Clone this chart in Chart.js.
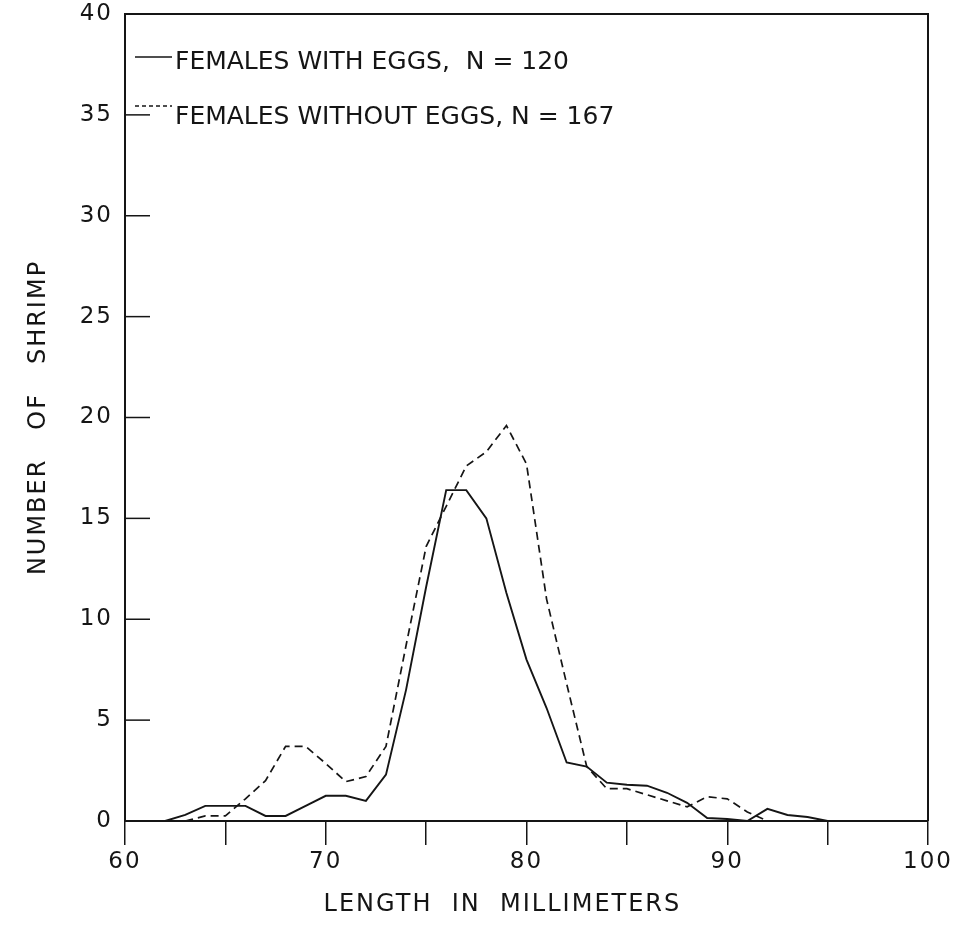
<!DOCTYPE html>
<html>
<head>
<meta charset="utf-8">
<script src="https://cdn.jsdelivr.net/npm/chart.js@4.4.1/dist/chart.umd.min.js"></script>
<style>
  html, body { margin: 0; padding: 0; background: #fff; }
  #wrap { width: 967px; height: 929px; }
</style>
</head>
<body>
<div id="wrap"><canvas id="shrimpChart" width="967" height="929"></canvas></div>
<script>
// Length-frequency of female shrimp

const withEggsLength = [62, 63, 64, 65, 66, 67, 68, 69, 70, 71, 72, 73, 74, 75, 76, 77, 78,
  79, 80, 81, 82, 83, 84, 85, 86, 87, 88, 89, 90, 91, 92, 93, 94, 95];
const withEggsCount = [0, 0.3, 0.75, 0.75, 0.75, 0.25, 0.25, 0.75, 1.25, 1.25, 1.0, 2.3, 6.5, 11.6, 16.4, 16.4, 15.0,
  11.3, 8.0, 5.6, 2.9, 2.7, 1.9, 1.8, 1.75, 1.4, 0.9, 0.15, 0.1, 0, 0.6, 0.3, 0.2, 0];

const withoutEggsLength = [63, 64, 65, 66, 67, 68, 69, 70, 71, 72, 73, 74, 75, 76, 77, 78,
  79, 80, 81, 82, 83, 84, 85, 86, 87, 88, 89, 90, 91, 92];
const withoutEggsCount = [0, 0.25, 0.25, 1.1, 2.0, 3.7, 3.7, 2.85, 1.95, 2.2, 3.7, 8.7, 13.6, 15.6, 17.6, 18.3,
  19.6, 17.7, 11.0, 6.8, 2.7, 1.6, 1.6, 1.3, 1.0, 0.7, 1.2, 1.1, 0.45, 0];

const seriesLabels = ['FEMALES WITH EGGS,  N = 120', 'FEMALES WITHOUT EGGS, N = 167'];
const xTitle = 'LENGTH  IN  MILLIMETERS     ';
const yTitle = 'NUMBER   OF   SHRIMP';

const ink = '#151515';
const labelFont = "'DejaVu Sans', sans-serif";

const toPoints = (xs, ys) => xs.map((x, i) => ({ x, y: ys[i] }));

// Lettering on the original is widely spaced; only the axis text gets it
const spacingPlugin = {
  id: 'spacing',
  beforeDraw(chart) { chart.ctx.letterSpacing = '2px'; },
  beforeDatasetsDraw(chart) { chart.ctx.letterSpacing = '0px'; }
};

// Draws the top/right frame, the inward y tick marks and the in-plot legend
const framePlugin = {
  id: 'frame',
  afterDatasetsDraw(chart) {
    const { ctx, chartArea: { left, right, top, bottom }, scales: { y } } = chart;
    ctx.save();
    ctx.strokeStyle = ink;
    ctx.lineWidth = 2;
    ctx.beginPath();
    ctx.moveTo(left, top);
    ctx.lineTo(right, top);
    ctx.lineTo(right, bottom);
    ctx.stroke();

    ctx.lineWidth = 1.5;
    y.ticks.forEach(({ value }) => {
      if (value <= 0 || value >= 40) return;
      const py = y.getPixelForValue(value);
      ctx.beginPath();
      ctx.moveTo(left, py);
      ctx.lineTo(left + 25, py);
      ctx.stroke();
    });

    // legend
    const rows = [{ lineY: top + 43, textY: top + 48 }, { lineY: top + 92, textY: top + 103 }];
    ctx.font = `25px ${labelFont}`;
    ctx.fillStyle = ink;
    ctx.textBaseline = 'middle';
    chart.data.datasets.forEach((ds, i) => {
      const r = rows[i];
      ctx.lineWidth = 1.6;
      ctx.setLineDash(ds.borderDash.length ? [4, 3] : []);
      ctx.beginPath();
      ctx.moveTo(left + 10, r.lineY);
      ctx.lineTo(left + 47, r.lineY);
      ctx.stroke();
      ctx.setLineDash([]);
      ctx.fillText(ds.label, left + 50, r.textY);
    });
    ctx.restore();
  }
};

const ctx = document.getElementById('shrimpChart').getContext('2d');

new Chart(ctx, {
  type: 'line',
  data: {
    datasets: [
      {
        label: seriesLabels[0],
        data: toPoints(withEggsLength, withEggsCount),
        borderColor: ink,
        borderWidth: 1.9,
        borderDash: [],
        pointRadius: 0,
        tension: 0,
        fill: false
      },
      {
        label: seriesLabels[1],
        data: toPoints(withoutEggsLength, withoutEggsCount),
        borderColor: ink,
        borderWidth: 1.7,
        borderDash: [8, 5],
        pointRadius: 0,
        tension: 0,
        fill: false
      }
    ]
  },
  options: {
    responsive: false,
    animation: false,
    layout: { padding: { left: 0, right: 39, top: 14, bottom: 0 } },
    plugins: {
      legend: { display: false },
      tooltip: { enabled: false }
    },
    scales: {
      x: {
        type: 'linear',
        min: 60,
        max: 100,
        afterFit: (s) => { s.height = 108; },
        border: { display: true, color: ink, width: 2 },
        grid: { drawOnChartArea: false, drawTicks: true, tickLength: 24, color: ink, lineWidth: 1.5 },
        ticks: {
          stepSize: 5,
          autoSkip: false,
          maxRotation: 0,
          padding: 3,
          color: ink,
          font: { family: labelFont, size: 23 },
          callback: (v) => (v % 10 === 0 ? String(v) : '')
        },
        title: {
          display: true,
          text: xTitle,
          color: ink,
          font: { family: labelFont, size: 24 },
          padding: { top: 0, bottom: 10 }
        }
      },
      y: {
        min: 0,
        max: 40,
        afterFit: (s) => {
          s.width = 125;
          s.paddingTop = 0;
          s.paddingBottom = 0;
        },
        border: { display: true, color: ink, width: 2 },
        grid: { display: false, drawTicks: false },
        ticks: {
          stepSize: 5,
          padding: 12,
          color: ink,
          font: { family: labelFont, size: 23 }
        },
        title: {
          display: true,
          text: yTitle,
          color: ink,
          font: { family: labelFont, size: 24 },
          padding: { top: 24, bottom: 0 }
        }
      }
    }
  },
  plugins: [spacingPlugin, framePlugin]
});
</script>
</body>
</html>
